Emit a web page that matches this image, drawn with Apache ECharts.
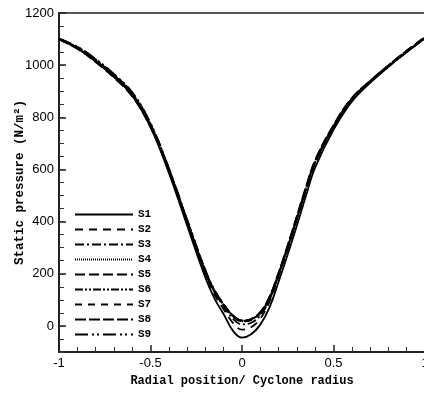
<!DOCTYPE html>
<html>
<head>
<meta charset="utf-8">
<script src="https://cdn.jsdelivr.net/npm/echarts@6/dist/echarts.min.js"></script>
<style>
  html, body { margin: 0; padding: 0; background: #fff; }
  #chart { width: 424px; height: 394px; }
</style>
</head>
<body>
<div id="chart"></div>
<script>
// Radial position (normalised by cyclone radius)
const radialPos = [-1, -0.9, -0.8, -0.7, -0.6, -0.5, -0.4, -0.3, -0.2, -0.15, -0.1, -0.05, 0, 0.05, 0.1, 0.15, 0.2, 0.25, 0.3, 0.35, 0.4, 0.5, 0.6, 0.7, 0.8, 0.9, 1];

// Static pressure (N/m^2) for each case
const S1 = [1100, 1064, 1014, 955, 884, 762, 588, 385, 185, 105, 45, -18, -45, -32, 5, 70, 170, 275, 385, 500, 608, 752, 860, 932, 994, 1050, 1104];
const S2 = [1100, 1066, 1017, 958, 886, 766, 594, 396, 200, 120, 64, 12, -14, -5, 28, 92, 190, 296, 408, 520, 624, 762, 866, 936, 996, 1052, 1106];
const S3 = [1101, 1068, 1020, 962, 890, 770, 600, 402, 206, 130, 74, 28, 6, 12, 40, 100, 196, 300, 412, 525, 628, 765, 869, 938, 998, 1054, 1106];
const S4 = [1100, 1066, 1016, 957, 886, 768, 598, 402, 208, 132, 80, 38, 18, 24, 50, 108, 200, 304, 415, 528, 630, 765, 870, 937, 996, 1052, 1105];
const S5 = [1099, 1063, 1012, 952, 880, 762, 594, 400, 210, 135, 83, 40, 20, 26, 52, 110, 203, 308, 420, 532, 634, 768, 872, 938, 997, 1053, 1106];
const S6 = [1101, 1070, 1022, 964, 894, 776, 604, 406, 212, 136, 82, 40, 20, 25, 51, 106, 198, 302, 412, 524, 626, 760, 866, 934, 994, 1050, 1103];
const S7 = [1100, 1065, 1015, 956, 884, 766, 596, 400, 206, 130, 79, 37, 17, 22, 48, 106, 198, 303, 414, 527, 630, 766, 871, 939, 999, 1056, 1108];
const S8 = [1100, 1067, 1018, 960, 889, 771, 602, 405, 211, 134, 81, 39, 19, 25, 52, 111, 204, 309, 421, 534, 636, 770, 874, 940, 999, 1055, 1107];
const S9 = [1102, 1071, 1024, 966, 896, 778, 606, 408, 214, 137, 84, 41, 21, 27, 53, 109, 201, 305, 416, 529, 632, 764, 868, 935, 995, 1051, 1104];

const seriesNames = ['S1', 'S2', 'S3', 'S4', 'S5', 'S6', 'S7', 'S8', 'S9'];
const seriesValues = [S1, S2, S3, S4, S5, S6, S7, S8, S9];

// Dash pattern per case
const dashStyles = [
  'solid',
  [8, 6],
  [9, 3, 2, 3],
  [1, 1],
  [10, 4],
  [8, 2, 2, 2, 2, 2],
  [7, 6],
  [11, 3],
  [13, 4, 2, 3, 2, 4]
];

// Axis ticks
const xTicks = [-1, -0.5, 0, 0.5, 1];
const yTicks = [0, 200, 400, 600, 800, 1000, 1200];

const monoBold = { fontFamily: 'Liberation Mono', fontWeight: 'bold', color: '#000' };
const plainNum = v => String(v);

const chart = echarts.init(document.getElementById('chart'), null, { renderer: 'canvas' });

const option = {
  animation: false,
  backgroundColor: '#fff',
  grid: {
    left: 59, top: 13, width: 366, height: 339,
    outerBoundsMode: 'none', containLabel: false,
    show: true, borderColor: '#222', borderWidth: 1.5, backgroundColor: 'transparent'
  },
  legend: {
    orient: 'vertical',
    left: 69, top: 204,
    itemWidth: 58, itemHeight: 10, itemGap: 4,
    itemStyle: { opacity: 0 },
    textStyle: Object.assign({ fontSize: 11 }, monoBold),
    data: seriesNames
  },
  xAxis: {
    type: 'value',
    min: xTicks[0], max: xTicks[xTicks.length - 1], interval: 0.5,
    name: 'Radial position/ Cyclone radius',
    nameLocation: 'middle', nameGap: 23,
    nameTextStyle: Object.assign({ fontSize: 12 }, monoBold),
    axisLine: { onZero: false, lineStyle: { color: '#222', width: 2 } },
    axisTick: { inside: true, length: 7, lineStyle: { color: '#222', width: 1.5 } },
    minorTick: { show: true, splitNumber: 5, length: 5, lineStyle: { color: '#333', width: 1 } },
    splitLine: { show: false },
    axisLabel: { formatter: plainNum, fontFamily: 'Liberation Sans', fontSize: 13, color: '#000', margin: 5 }
  },
  yAxis: [
    {
      type: 'value', min: -100, max: 1200, position: 'left',
      name: 'Static pressure (N/m\u00b2)',
      nameLocation: 'middle', nameGap: 33, nameMoveOverlap: false,
      nameTextStyle: Object.assign({ fontSize: 12.5 }, monoBold),
      axisLine: { onZero: false, lineStyle: { color: '#222', width: 2 } },
      axisTick: { inside: true, length: 7, customValues: yTicks, lineStyle: { color: '#222', width: 1.5 } },
      splitLine: { show: false },
      axisLabel: { customValues: yTicks, formatter: plainNum, fontFamily: 'Liberation Sans', fontSize: 13, color: '#000', margin: 5 }
    },
    {
      // minor ticks every 50
      type: 'value', min: -100, max: 1200, interval: 50, position: 'left', offset: 0,
      axisLine: { show: true, onZero: false, lineStyle: { color: '#222', width: 2 } },
      axisTick: { show: true, inside: true, length: 5, lineStyle: { color: '#333', width: 1 } },
      splitLine: { show: false },
      axisLabel: { show: false }
    }
  ],
  series: seriesNames.map((name, i) => ({
    name: name,
    type: 'line',
    smooth: 0.4,
    symbol: 'none',
    yAxisIndex: 0,
    lineStyle: { color: '#000', width: 1.8, type: dashStyles[i] },
    itemStyle: { color: '#000' },
    data: radialPos.map((x, j) => [x, seriesValues[i][j]])
  }))
};

chart.setOption(option);
</script>
</body>
</html>
